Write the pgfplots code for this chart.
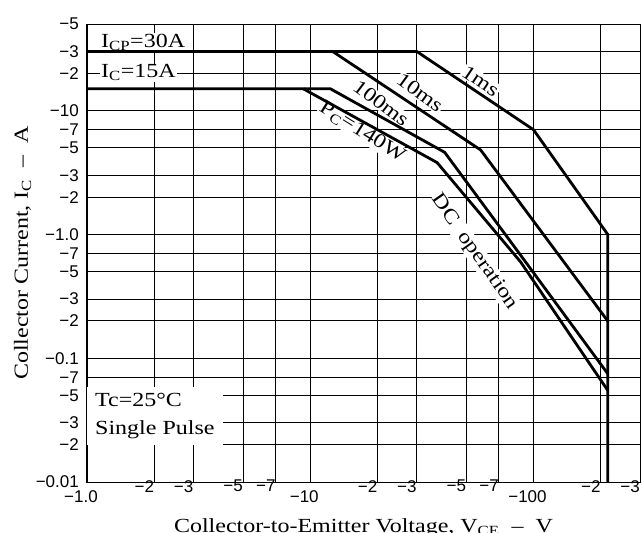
\documentclass[border=0pt]{standalone}
\usepackage{fontspec}
\setmainfont{Liberation Serif}[FakeStretch=1.2]
\newfontfamily\tickfont{Liberation Sans}
\usepackage{pgfplots}
\pgfplotsset{compat=1.18}

\newcommand\lbl{\fontsize{20bp}{28bp}\selectfont}
\newcommand\tl[1]{\mbox{\tickfont\fontsize{17bp}{17bp}\selectfont #1}}

\begin{document}
\begin{tikzpicture}
\begin{axis}[
    name=ax,
    xmode=log, ymode=log,
    xmin=1, xmax=300, ymin=0.01, ymax=50,
    width=553bp, height=458bp, scale only axis,
    clip=false,
    axis line style={line width=1bp},
    grid=major,
    major grid style={black, line width=0.9bp},
    major tick length=0pt,
    xtick={2,3,5,7,20,30,50,70,200,300},
    xticklabels={\tl{−2},\tl{−3},\tl{−5},\tl{−7},\tl{−2},\tl{−3},\tl{−5},\tl{−7},\tl{−2},\tl{−3}},
    xticklabel style={anchor=north east, inner sep=0pt, yshift=2bp},
    extra x ticks={1,10,100},
    extra x tick labels={\tl{−1.0},\tl{−10},\tl{−100}},
    extra x tick style={grid=major, major tick length=0pt,
        xticklabel style={anchor=north, inner sep=0pt, xshift=-6bp, yshift=-10bp}},
    ytick={0.01,0.02,0.03,0.05,0.07,0.1,0.2,0.3,0.5,0.7,1,2,3,5,7,10,20,30,50},
    yticklabels={\tl{−0.01},\tl{−2},\tl{−3},\tl{−5},\tl{−7},\tl{−0.1},\tl{−2},\tl{−3},\tl{−5},\tl{−7},\tl{−1.0},\tl{−2},\tl{−3},\tl{−5},\tl{−7},\tl{−10},\tl{−2},\tl{−3},\tl{−5}},
    yticklabel style={anchor=east, inner sep=0pt, xshift=-8bp},
    xlabel={Collector-to-Emitter Voltage, V\textsubscript{CE} \ – \ V},
    xlabel style={font=\lbl, at={([yshift=-50bp]axis description cs:0.5,0)}, anchor=base},
    ylabel={Collector Current, I\textsubscript{C} \ – \ A},
    ylabel style={font=\lbl, at={([xshift=-59bp]axis description cs:0,0.5)}, anchor=base, rotate=0},
]
% text labels first, so the curves sit on top of their white boxes
\node[font=\lbl, fill=white, inner sep=1bp, anchor=base west] at ([xshift=13bp, yshift=4bp]axis cs:1,30) {I\textsubscript{CP}=30A};
\node[font=\lbl, fill=white, inner sep=1bp, anchor=base west] at ([xshift=13bp, yshift=11bp]axis cs:1,15) {I\textsubscript{C}=15A};
\node[font=\lbl, fill=white, anchor=south west, align=left, inner xsep=8bp, inner ysep=6bp] at (axis cs:1,0.02) {Tc=25°C\\Single Pulse};
\node[font=\lbl, fill=white, inner sep=1bp, rotate=-34] at (axis cs:58,17.3) {1ms};
\node[font=\lbl, fill=white, inner sep=1bp, rotate=-36] at (axis cs:31,13.9) {10ms};
\node[font=\lbl, fill=white, inner sep=1bp, rotate=-37] at (axis cs:20.8,11.5) {100ms};
\node[font=\lbl, fill=white, inner sep=1bp, rotate=-32] at (axis cs:17.1,6.7) {P\textsubscript{C}=140W};
\node[font=\lbl, fill=white, inner sep=1bp, rotate=-55] at (axis cs:54.4,0.72) {DC~~operation};

% 1 ms (with I_CP limit and V_CEO limit)
\addplot[black, line width=2.8bp] coordinates {(1,30) (30,30) (100,7) (215,1.0) (215,0.01)};
% 10 ms
\addplot[black, line width=2.8bp] coordinates {(12.6,30) (58,4.8) (215,0.2)};
% 100 ms (with I_C limit)
\addplot[black, line width=2.8bp] coordinates {(1,15) (12.3,15) (40,4.6) (87.5,0.68) (215,0.075)};
% DC operation, P_C = 140 W
\addplot[black, line width=2.8bp] coordinates {(9.3,15) (37,3.8) (87.5,0.6) (215,0.055)};
\end{axis}
\pgfresetboundingbox
\path ([xshift=-87bp, yshift=-51bp]ax.south west) rectangle ([xshift=2bp, yshift=24bp]ax.north east);
\end{tikzpicture}
\end{document}
